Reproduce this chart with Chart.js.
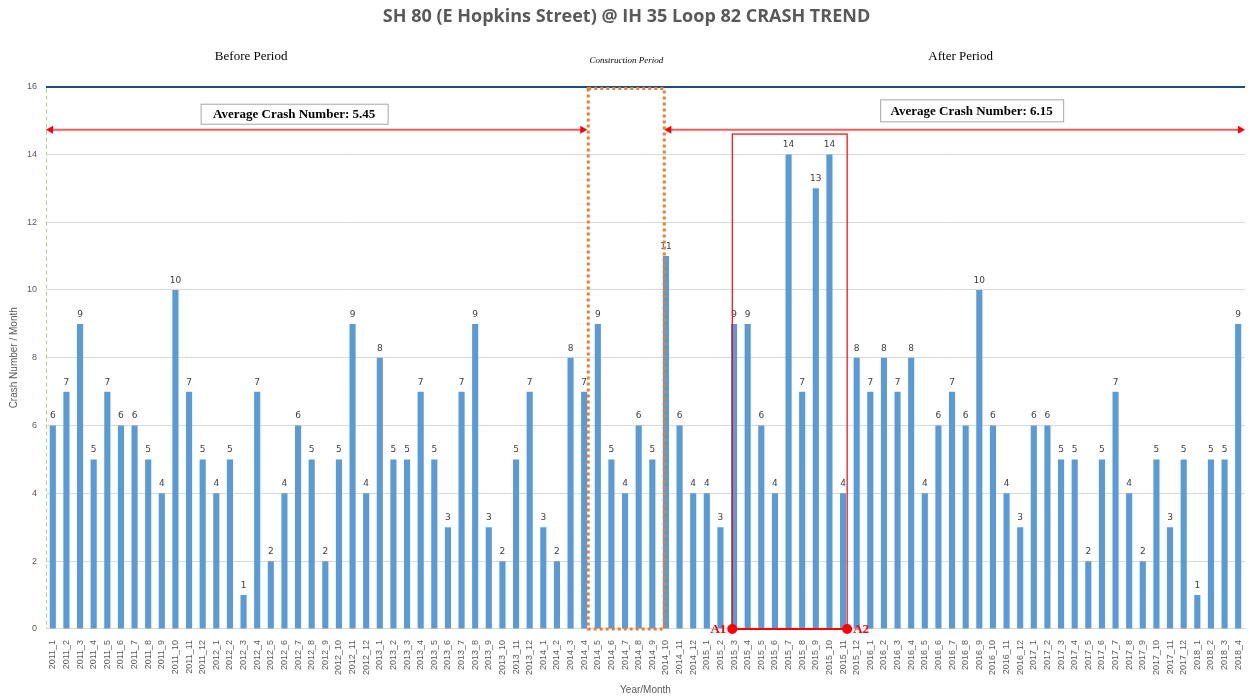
<!DOCTYPE html>
<html>
<head>
<meta charset="utf-8">
<script src="https://cdn.jsdelivr.net/npm/chart.js@4"></script>
<style>
body { margin: 0; background: #fff; }
#wrap { width: 1253px; height: 696px; }
</style>
</head>
<body>
<div id="wrap"><canvas id="myChart" width="1253" height="696"></canvas></div>
<script>
'use strict'

// months 2011_1 .. 2018_4
let years = [2011, 2012, 2013, 2014, 2015, 2016, 2017, 2018];
let months = [];
for (let y = 0; y < years.length; y++) {
  let last = years[y] === 2018 ? 4 : 12;
  for (let m = 1; m <= last; m++) {
    months.push(years[y] + '_' + m);
  }
}

let crashes = [
  6, 7, 9, 5, 7, 6, 6, 5, 4, 10, 7, 5,
  4, 5, 1, 7, 2, 4, 6, 5, 2, 5, 9, 4,
  8, 5, 5, 7, 5, 3, 7, 9, 3, 2, 5, 7,
  3, 2, 8, 7, 9, 5, 4, 6, 5, 11, 6, 4,
  4, 3, 9, 9, 6, 4, 14, 7, 13, 14, 4, 8,
  7, 8, 7, 8, 4, 6, 7, 6, 10, 6, 4, 3,
  6, 6, 5, 5, 2, 5, 7, 4, 2, 5, 3, 5,
  1, 5, 5, 9
];

let yTicks = [0, 2, 4, 6, 8, 10, 12, 14, 16];
let avgBefore = 5.45;
let avgAfter = 6.15;

// period boundaries (month labels)
let constructionStart = '2014_4';
let constructionEnd = '2014_10';
let peakStart = '2015_3';
let peakEnd = '2015_11';

//value labels on top of bars//
const barLabels = {
  id: 'barLabels',
  afterDatasetsDraw(chart) {
    let ctx = chart.ctx;
    let meta = chart.getDatasetMeta(0);
    ctx.save();
    ctx.font = '9px "DejaVu Sans"';
    ctx.fillStyle = '#404040';
    ctx.textAlign = 'center';
    ctx.textBaseline = 'bottom';
    meta.data.forEach(function (bar, i) {
      ctx.fillText(crashes[i], bar.x, bar.y - 5);
    });
    ctx.restore();
  }
};

function arrowHead(ctx, x, y, dir) {
  ctx.beginPath();
  ctx.moveTo(x, y);
  ctx.lineTo(x - dir * 7, y - 4);
  ctx.lineTo(x - dir * 7, y + 4);
  ctx.closePath();
  ctx.fill();
}

function boxText(ctx, text, cx, cy, w, h) {
  ctx.fillStyle = '#fff';
  ctx.fillRect(cx - w / 2, cy - h / 2, w, h);
  ctx.strokeStyle = '#a6a6a6';
  ctx.lineWidth = 1;
  ctx.strokeRect(cx - w / 2 + 0.5, cy - h / 2 + 0.5, w, h);
  ctx.fillStyle = '#000';
  ctx.font = 'bold 13px "Liberation Serif"';
  ctx.textAlign = 'center';
  ctx.textBaseline = 'middle';
  ctx.fillText(text, cx, cy + 1);
}

//period annotations//
const periods = {
  id: 'periods',
  afterDraw(chart) {
    let ctx = chart.ctx;
    let xs = chart.scales.x;
    let ys = chart.scales.y;
    let area = chart.chartArea;
    let step = xs.width / months.length;
    let px = function (label, off) {
      return xs.getPixelForValue(months.indexOf(label)) + off * step;
    };
    let y0 = ys.getPixelForValue(0);
    let y16 = ys.getPixelForValue(16);

    ctx.save();

    // light green dashed y axis line
    ctx.strokeStyle = '#a9d18e';
    ctx.lineWidth = 1;
    ctx.setLineDash([4, 3]);
    ctx.beginPath();
    ctx.moveTo(area.left + 0.5, y16 + 2);
    ctx.lineTo(area.left + 0.5, y0);
    ctx.stroke();

    // construction window
    let cL = px(constructionStart, 0.3);
    let cR = px(constructionEnd, -0.12);
    ctx.strokeStyle = '#ed7d31';
    ctx.lineWidth = 3;
    ctx.setLineDash([3, 3]);
    ctx.strokeRect(cL, y16 + 2, cR - cL, y0 - y16 - 2);
    ctx.setLineDash([]);

    // average arrows
    let ay = ys.getPixelForValue(14.73);
    ctx.strokeStyle = '#f75c5c';
    ctx.fillStyle = '#f00';
    ctx.lineWidth = 2;
    ctx.beginPath();
    ctx.moveTo(area.left + 2, ay);
    ctx.lineTo(cL - 3, ay);
    ctx.moveTo(cR + 2, ay);
    ctx.lineTo(area.right - 2, ay);
    ctx.stroke();
    arrowHead(ctx, area.left, ay, -1);
    arrowHead(ctx, cL - 1, ay, 1);
    arrowHead(ctx, cR, ay, -1);
    arrowHead(ctx, area.right, ay, 1);

    boxText(ctx, 'Average Crash Number: ' + avgBefore, (area.left + cL) / 2 - 23, ys.getPixelForValue(15.2), 187, 20);
    boxText(ctx, 'Average Crash Number: ' + avgAfter, (cR + area.right) / 2 + 17, ys.getPixelForValue(15.3), 183, 22);

    // period names
    ctx.fillStyle = '#000';
    ctx.textAlign = 'center';
    ctx.textBaseline = 'middle';
    ctx.font = '13px "Liberation Serif"';
    ctx.fillText('Before Period', (area.left + cL) / 2 - 66, area.top - 30);
    ctx.fillText('After Period', (cR + area.right) / 2 + 6, area.top - 30);
    ctx.font = 'italic 9px "Liberation Serif"';
    ctx.fillText('Construction Period', (cL + cR) / 2, area.top - 26);

    // peak window
    let pL = px(peakStart, -0.13);
    let pR = px(peakEnd, 0.3);
    let pTop = ys.getPixelForValue(14.6);
    ctx.strokeStyle = '#f00';
    ctx.lineWidth = 1.2;
    ctx.strokeRect(pL, pTop, pR - pL, y0 - pTop);
    ctx.lineWidth = 2;
    ctx.beginPath();
    ctx.moveTo(pL, y0);
    ctx.lineTo(pR, y0);
    ctx.stroke();
    ctx.fillStyle = '#f00';
    ctx.beginPath();
    ctx.arc(pL, y0, 5, 0, Math.PI * 2);
    ctx.arc(pR, y0, 5, 0, Math.PI * 2);
    ctx.fill();
    ctx.font = 'bold 13px "Liberation Serif"';
    ctx.textAlign = 'right';
    ctx.fillText('A1', pL - 6, y0 + 1);
    ctx.textAlign = 'left';
    ctx.fillText('A2', pR + 6, y0 + 1);

    ctx.restore();
  }
};

let ctx = document.getElementById('myChart').getContext('2d');
let myChart = new Chart(ctx, {
  type: 'bar',
  data: {
    labels: months,
    datasets: [{
      label: 'Crashes',
      data: crashes,
      backgroundColor: '#5b9bd5',
      barPercentage: 0.45,
      categoryPercentage: 1
    }]
  },
  options: {
    responsive: false,
    animation: false,
    layout: { padding: { left: 8, right: 8, top: 0, bottom: 0 } },
    plugins: {
      legend: { display: false },
      tooltip: { enabled: false },
      title: {
        display: true,
        text: 'SH 80 (E Hopkins Street) @ IH 35 Loop 82 CRASH TREND',
        color: '#595959',
        font: { family: '"Open Sans"', size: 18, weight: 'bold' },
        padding: { top: 6, bottom: 59 }
      }
    },
    scales: {
      x: {
        grid: { display: false },
        border: { color: '#d9d9d9' },
        ticks: {
          autoSkip: false,
          maxRotation: 90,
          minRotation: 90,
          color: '#595959',
          font: { family: '"Liberation Sans"', size: 9 },
          padding: 3
        },
        title: {
          display: true,
          text: 'Year/Month',
          color: '#595959',
          font: { family: '"Liberation Sans"', size: 10 },
          padding: { top: 6, bottom: 0 }
        }
      },
      y: {
        min: 0,
        max: 16,
        afterBuildTicks: function (scale) {
          scale.ticks = yTicks.map(function (v) { return { value: v }; });
        },
        afterFit: function (scale) { scale.width = 38; },
        grid: {
          color: function (c) { return c.tick && c.tick.value === 16 ? '#1f4e79' : '#d9d9d9'; },
          lineWidth: function (c) { return c.tick && c.tick.value === 16 ? 2 : 1; },
          drawTicks: false
        },
        border: { display: false },
        ticks: {
          color: '#595959',
          font: { family: '"Liberation Sans"', size: 9 },
          padding: 9
        },
        title: {
          display: true,
          text: 'Crash Number / Month',
          color: '#595959',
          font: { family: '"Liberation Sans"', size: 10 },
          padding: { top: 0, bottom: 2 }
        }
      }
    }
  },
  plugins: [barLabels, periods]
});
</script>
</body>
</html>
